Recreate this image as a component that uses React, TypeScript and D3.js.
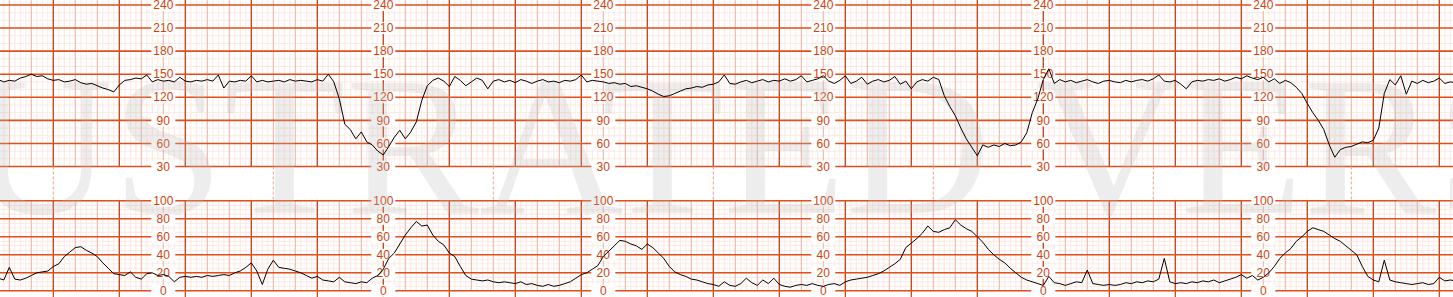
import React from "react";
import * as d3 from "d3";

const WIDTH = 1453;
const HEIGHT = 297;

// time sampling of the traces (minutes)
const SAMPLE_START = -2.5;
const SAMPLE_STEP = 0.25;

// Fetal heart rate (bpm), one value every 0.25 min
const fhr = [
  143, 140, 142, 141, 145, 147, 150, 147, 148, 144,
  142, 143, 140, 141, 143, 139, 137, 138, 135, 132,
  130, 127, 136, 142, 143, 145, 144, 149, 140, 143,
  141, 142, 140, 146, 141, 140, 142, 141, 143, 141,
  149, 132, 141, 140, 142, 141, 148, 140, 142, 140,
  141, 142, 140, 143, 141, 142, 141, 140, 143, 141,
  150, 140, 118, 85, 78, 66, 75, 62, 58, 50,
  45, 56, 68, 77, 66, 75, 88, 116, 135, 142,
  145, 141, 134, 147, 142, 135, 140, 145, 142, 131,
  141, 143, 140, 142, 139, 143, 141, 138, 141, 143,
  140, 141, 139, 142, 141, 143, 149, 140, 142, 141,
  140, 138, 139, 137, 138, 134, 135, 133, 131, 128,
  124, 121, 122, 125, 128, 131, 132, 134, 133, 136,
  137, 140, 149, 138, 137, 140, 142, 139, 141, 143,
  140, 142, 141, 144, 141, 143, 148, 140, 142, 144,
  148, 141, 138, 142, 148, 138, 141, 146, 137, 141,
  143, 140, 142, 147, 137, 141, 131, 140, 143, 141,
  146, 143, 122, 108, 96, 80, 66, 55, 44, 58,
  55, 58, 56, 60, 57, 58, 62, 74, 100, 118,
  143, 157, 138, 143, 140, 142, 139, 141, 143, 140,
  138, 141, 142, 140, 139, 142, 140, 142, 143, 141,
  144, 149, 141, 140, 142, 137, 131, 140, 142, 141,
  143, 142, 144, 141, 143, 146, 144, 148, 145, 143,
  146, 140, 144, 138, 142, 139, 133, 125, 112, 100,
  90, 78, 58, 42, 52, 55, 56, 59, 62, 61,
  64, 80, 125, 143, 136, 148, 124, 141, 138, 142,
  139, 141, 145, 138, 140, 139,
];

// Uterine activity (toco units), one value every 0.25 min
const toco = [
  14, 12, 26, 13, 12, 14, 17, 20, 21, 22,
  27, 30, 38, 43, 48, 49, 45, 42, 38, 31,
  25, 19, 18, 17, 21, 15, 13, 19, 20, 17,
  18, 16, 10, 15, 16, 15, 16, 15, 17, 16,
  17, 18, 17, 20, 22, 26, 31, 22, 7, 24,
  34, 26, 25, 24, 22, 20, 17, 14, 16, 12,
  11, 10, 15, 10, 9, 8, 10, 9, 14, 17,
  24, 36, 42, 52, 62, 70, 77, 72, 73, 62,
  55, 51, 42, 38, 27, 17, 13, 12, 11, 12,
  10, 9, 10, 9, 8, 10, 7, 8, 6, 5,
  7, 5, 6, 8, 10, 14, 18, 20, 24, 28,
  38, 44, 50, 56, 55, 52, 50, 46, 52, 48,
  42, 36, 27, 21, 18, 16, 13, 12, 10, 8,
  7, 5, 10, 6, 5, 8, 14, 9, 6, 12,
  8, 14, 7, 5, 4, 6, 7, 6, 8, 6,
  5, 7, 8, 6, 10, 12, 13, 14, 15, 17,
  19, 22, 26, 30, 35, 48, 53, 58, 64, 72,
  66, 65, 68, 70, 79, 73, 69, 66, 60, 54,
  46, 40, 35, 31, 25, 20, 15, 12, 10, 8,
  6, 16, 9, 8, 6, 8, 10, 9, 23, 8,
  7, 6, 7, 6, 7, 9, 8, 10, 9, 11,
  10, 13, 36, 10, 8, 9, 8, 10, 9, 11,
  10, 12, 9, 11, 13, 15, 18, 14, 17, 12,
  15, 20, 27, 36, 42, 47, 55, 60, 66, 70,
  68, 66, 62, 58, 55, 50, 45, 40, 27, 16,
  12, 10, 34, 12, 10, 9, 8, 7, 8, 9,
  7, 8, 15, 11, 12, 11,
];

const fhrLabels = [30, 60, 90, 120, 150, 180, 210, 240];
const tocoLabels = [0, 20, 40, 60, 80, 100];
const labelMinutes = [5, 15, 25, 35, 45, 55];
const markerMinutes = [0, 10, 20, 30, 40, 50, 59];

const WATERMARK = "ILLUSTRATED VERSION";

const C = {
  minor: "#fde8e1",
  medium: "#efb6a5",
  major: "#c43a10",
  hMajor: "#e0501c",
  label: "#d2420f",
  dash: "#eaa08a",
};

export default function App() {
  const x = d3.scaleLinear().domain([0, 60]).range([53.3, 53.3 + 1320]);
  const yF = d3.scaleLinear().domain([30, 240]).range([166.5, 5]);
  const yT = d3.scaleLinear().domain([0, 100]).range([290.8, 200.8]);

  const tMin = x.invert(0);
  const tMax = x.invert(WIDTH);
  const minorT = d3.range(Math.ceil(tMin * 4) / 4, tMax, 0.25);
  const medT = d3.range(Math.ceil(tMin), tMax, 1);
  const majT = d3.range(Math.ceil(tMin / 3) * 3, tMax, 3);

  const fhrTop = 0;
  const fhrBot = yF(30);
  const tocoTop = yT(100);
  const tocoBot = yT(0);

  const fhrMinorH = d3.range(30, 250, 10);
  const fhrMajorH = d3.range(30, 250, 30);
  const tocoMinorH = d3.range(0, 101, 5);
  const tocoMajorH = d3.range(0, 101, 20);

  const t = (i: number) => SAMPLE_START + SAMPLE_STEP * i;
  const fhrLine = d3
    .line<number>()
    .x((_, i) => x(t(i)))
    .y((d) => yF(d));
  const tocoLine = d3
    .line<number>()
    .x((_, i) => x(t(i)))
    .y((d) => yT(d));

  const vLines = (y1: number, y2: number, key: string) => (
    <g key={key}>
      {minorT.map((m) => (
        <line key={"n" + m} x1={x(m)} x2={x(m)} y1={y1} y2={y2} stroke={C.minor} strokeWidth={1} />
      ))}
      {medT.map((m) => (
        <line key={"m" + m} x1={x(m)} x2={x(m)} y1={y1} y2={y2} stroke={C.medium} strokeWidth={1} />
      ))}
    </g>
  );

  return (
    <svg
      width={WIDTH}
      height={HEIGHT}
      style={{ position: "absolute", left: 0, top: 0, background: "#fff" }}
      xmlns="http://www.w3.org/2000/svg"
    >
      <rect x={0} y={0} width={WIDTH} height={HEIGHT} fill="#fff" />
      {/* FHR grid */}
      {fhrMinorH.map((v) => (
        <line key={"fh" + v} x1={0} x2={WIDTH} y1={yF(v)} y2={yF(v)} stroke={C.minor} strokeWidth={1} />
      ))}
      {vLines(fhrTop, fhrBot, "fv")}
      {/* TOCO grid */}
      {tocoMinorH.map((v) => (
        <line key={"th" + v} x1={0} x2={WIDTH} y1={yT(v)} y2={yT(v)} stroke={C.minor} strokeWidth={1} />
      ))}
      {vLines(tocoTop, tocoBot, "tv")}
      {/* major vertical lines */}
      {majT.map((m) => (
        <g key={"M" + m}>
          <line x1={x(m)} x2={x(m)} y1={fhrTop} y2={fhrBot} stroke={C.major} strokeWidth={1.2} />
          <line x1={x(m)} x2={x(m)} y1={tocoTop} y2={HEIGHT} stroke={C.major} strokeWidth={1.2} />
        </g>
      ))}
      {fhrMajorH.map((v) => (
        <line key={"FH" + v} x1={0} x2={WIDTH} y1={yF(v)} y2={yF(v)} stroke={C.hMajor} strokeWidth={1.6} />
      ))}
      {tocoMajorH.map((v) => (
        <line key={"TH" + v} x1={0} x2={WIDTH} y1={yT(v)} y2={yT(v)} stroke={C.hMajor} strokeWidth={1.6} />
      ))}
      {/* dashed markers between the panels */}
      {markerMinutes.map((m) => (
        <line
          key={"d" + m}
          x1={x(m)}
          x2={x(m)}
          y1={fhrBot}
          y2={tocoTop}
          stroke={C.dash}
          strokeWidth={1}
          strokeDasharray="3,2"
        />
      ))}
      {/* labels */}
      {labelMinutes.map((m) => (
        <g key={"L" + m}>
          {fhrLabels.map((v) => (
            <g key={"lf" + v}>
              <rect x={x(m) - 12} y={yF(v) - 6} width={24} height={12} fill="#fff" />
              <text
                x={x(m)}
                y={yF(v)}
                dy="0.35em"
                textAnchor="middle"
                fontFamily="'Liberation Sans', Arial, sans-serif"
                fontSize={12}
                fill={C.label}
              >
                {v}
              </text>
            </g>
          ))}
          {tocoLabels.map((v) => (
            <g key={"lt" + v}>
              <rect x={x(m) - 12} y={yT(v) - 6} width={24} height={12} fill="#fff" />
              <text
                x={x(m)}
                y={yT(v)}
                dy="0.35em"
                textAnchor="middle"
                fontFamily="'Liberation Sans', Arial, sans-serif"
                fontSize={12}
                fill={C.label}
              >
                {v}
              </text>
            </g>
          ))}
        </g>
      ))}
      {/* watermark */}
      <text
        x={-343}
        y={213}
        fontFamily="'Liberation Serif', 'Times New Roman', serif"
        fontSize={200}
        fill="#b8b8b8"
        fillOpacity={0.26}
      >
        {WATERMARK}
      </text>
      {/* traces */}
      <path d={fhrLine(fhr) || ""} fill="none" stroke="#000" strokeWidth={1} />
      <path d={tocoLine(toco) || ""} fill="none" stroke="#000" strokeWidth={1} />
    </svg>
  );
}
